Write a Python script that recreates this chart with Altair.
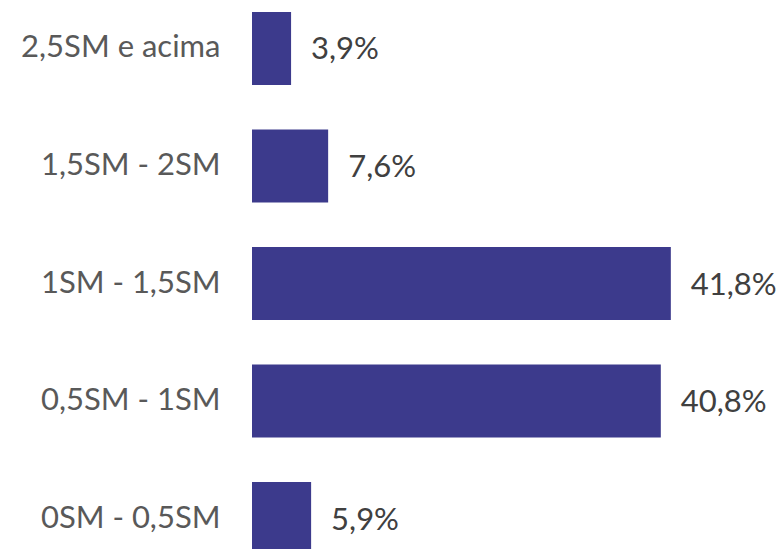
import altair as alt
import pandas as pd

categories = ["2,5SM e acima", "1,5SM - 2SM", "1SM - 1,5SM", "0,5SM - 1SM", "0SM - 0,5SM"]
values = [3.9, 7.6, 41.8, 40.8, 5.9]
labels = [f"{v:.1f}".replace(".", ",") + "%" for v in values]

df = pd.DataFrame({"faixa": categories, "pct": values, "label": labels})

FONT = "Lato"

y_enc = alt.Y(
    "faixa:N",
    sort=categories,
    scale=alt.Scale(paddingInner=0.379, paddingOuter=0),
    axis=alt.Axis(
        title=None,
        domain=False,
        ticks=False,
        grid=False,
        labelPadding=32,
        labelFont=FONT,
        labelFontSize=31,
        labelColor="#595959",
        labelLimit=400,
    ),
)
x_enc = alt.X("pct:Q", scale=alt.Scale(domain=[0, 50], nice=False), axis=None)

base = alt.Chart(df).encode(y=y_enc, x=x_enc)

bars = base.mark_bar(color="#3C3A8C")

text = base.mark_text(
    align="left", baseline="middle", dx=20, dy=2, font=FONT, fontSize=31, color="#404040"
).encode(text="label:N")

chart = (
    alt.layer(bars, text)
    .properties(
        width=501,
        height=543,
        background="white",
        autosize=alt.AutoSizeParams(type="none"),
        padding={"left": 244, "top": 4, "right": 23, "bottom": 0},
    )
    .configure_view(stroke=None, strokeWidth=0)
    .configure_axis(grid=False, domain=False)
)

chart.save("out.html", embed_options={"renderer": "svg", "actions": False})
